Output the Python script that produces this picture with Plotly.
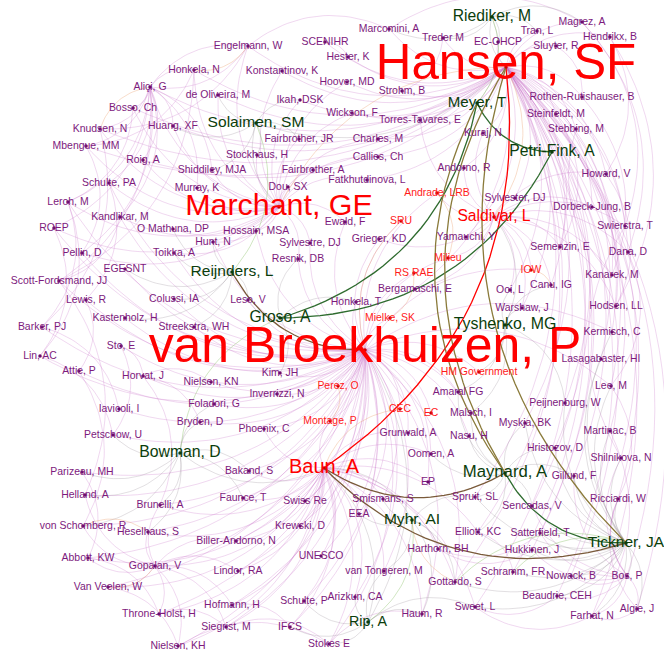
import numpy as np
import plotly.graph_objects as go

# ---------------- nodes ----------------
# ordinary (purple cluster) nodes: label, x, y (layout coordinates)
purple_names = [
    "Engelmann, W", "SCENIHR", "Marcomini, A", "Treder M", "EC-OHCP", "Magrez, A", "Tran, L",
    "Hendrikx, B", "Sluyter, R", "Hester, K", "Konstantinov, K", "Honkela, N", "Hoover, MD",
    "Aliçi, G", "de Oliveira, M", "Ikah, DSK", "Strohm, B", "Rothen-Rutishauser, B", "Bosso, Ch",
    "Wickson, F", "Torres-Tavares, E", "Steinfeldt, M", "Knudsen, N", "Huang, XF", "Kuraj, N",
    "Stebbing, M", "Mbengue, MM", "Fairbrother, JR", "Charles, M", "Stockhaus, H", "Callies, Ch",
    "Roig, A", "Shiddiley, MJA", "Fairbrother, A", "Andorno, R", "Fatkhutdinova, L", "Schulte, PA",
    "Howard, V", "Dou, SX", "Murray, K", "Sylvester, DJ", "Dorbeck-Jung, B", "Leroh, M",
    "Kandlikar, M", "Ewald, F", "O Mathuna, DP", "ROEP", "Hossain, MSA", "Swierstra, T", "Hunt, N",
    "Sylvestre, DJ", "Grieger, KD", "Yamauchi, Y", "Semenzin, E", "Dana, D", "Pellin, D",
    "Toikka, A", "Resnik, DB", "EGESNT", "Kanarek, M", "Scott-Fordsmand, JJ", "Bergamaschi, E",
    "Canu, IG", "Ooi, L", "Lewis, R", "Colussi, IA", "Leso, V", "Honkela, T", "Hodsen, LL",
    "Warshaw, J", "Kastenholz, H", "Streekstra, WH", "Barker, PJ", "Kermisch, C", "Sto, E",
    "Lasagabaster, HI", "Lin, AC", "Attie, P", "Horvat, J", "Nielsen, KN", "Kim, JH", "Amaral FG",
    "Lee, M", "Inverrizzi, N", "Iavicoli, I", "Foladori, G", "Malsch, I", "Peijnenburg, W",
    "Myskja, BK", "Bryden, D", "Martinac, B", "Phoenix, C", "Grunwald, A", "Nasu, H",
    "Hristozov, D", "Petschow, U", "Shilnikova, N", "Oomen, A", "Gillund, F", "Parizeau, MH",
    "Bakand, S", "EP", "Helland, A", "Faunce, T", "Swiss Re", "Spruit, SL", "Smismans, S",
    "Sencadas, V", "Ricciardi, W", "Brunelli, A", "EEA", "von Schomberg, R", "Heselhaus, S",
    "Krewski, D", "Biller-Andorno, N", "Elliott, KC", "Satterfield, T", "Harthorn, BH",
    "Hukkinen, J", "UNESCO", "Abbott, KW", "Gopalan, V", "Lindor, RA", "van Tongeren, M",
    "Schramm, FR", "Nowack, B", "Bos, P", "Gottardo, S", "Van Veelen, W", "Hofmann, H",
    "Schulte, P", "Arizkun, CA", "Beaudrie, CEH", "Haum, R", "Sweet, L", "Algie, J",
    "Throne-Holst, H", "Siegrist, M", "IFCS", "Farhat, N", "Nielsen, KH", "Stokes E",
]
purple_x = [
    248, 325, 389, 443, 498, 582, 537,
    610, 556, 348, 282, 194, 347,
    150, 218, 300, 402, 582, 133,
    352, 420, 556, 100, 173, 483,
    576, 86, 299, 378, 257, 378,
    143, 212, 313, 464, 367, 109,
    606, 288, 197, 515, 592, 68,
    120, 345, 173, 54, 256, 625, 213,
    310, 379, 466, 560, 628, 82,
    174, 298, 125, 612, 59, 415,
    551, 510, 86, 174, 248, 356, 616,
    522, 125, 194, 42, 612, 121,
    601, 40, 79, 143, 211, 280, 458,
    611, 277, 119, 214, 471, 565,
    525, 200, 610, 264, 408, 469,
    555, 113, 621, 431, 574, 82,
    249, 428, 85, 243, 305, 475, 383,
    532, 618, 160, 359, 83, 148,
    300, 236, 478, 540, 438,
    532, 321, 88, 155, 238, 384,
    513, 571, 627, 455, 108, 232,
    304, 355, 557, 422, 475, 637,
    159, 226, 290, 592, 178, 329,
]
purple_y = [
    46, 42, 29, 38, 42, 22, 31,
    37, 46, 57, 71, 70, 82,
    87, 95, 100, 91, 97, 108,
    113, 120, 114, 129, 126, 133,
    129, 146, 139, 139, 155, 157,
    160, 170, 170, 168, 180, 183,
    174, 187, 188, 198, 207, 202,
    217, 222, 229, 228, 231, 226, 242,
    243, 239, 237, 247, 252, 253,
    253, 259, 269, 275, 281, 289,
    285, 290, 300, 299, 300, 302, 306,
    308, 318, 327, 327, 332, 346,
    359, 356, 371, 376, 382, 373, 392,
    386, 394, 409, 404, 413, 403,
    423, 422, 431, 429, 433, 436,
    448, 435, 458, 454, 476, 472,
    471, 482, 495, 498, 501, 497, 499,
    506, 499, 505, 514, 526, 532,
    526, 541, 532, 533, 549,
    550, 556, 558, 566, 571, 571,
    572, 576, 576, 582, 587, 605,
    601, 597, 596, 614, 607, 609,
    614, 627, 627, 616, 646, 644,
]

# red cluster, small nodes
red_names = ["Andrade, LRB", "SRU", "Milieu", "IOW", "RS RAE", "Mielke, SK",
             "HM Government", "Perez, O", "CEC", "EC", "Montage, P"]
red_x = [437, 401, 448, 531, 414, 390, 479, 338, 400, 431, 330]
red_y = [193, 221, 258, 270, 273, 318, 372, 386, 409, 413, 421]

# red cluster, high-degree nodes
hub_names = ["Hansen, SF", "van Broekhuizen, P", "Marchant, GE", "Saldivar, L", "Baun, A"]
hub_x = [506, 365, 279, 494, 324]
hub_y = [67, 350, 207, 217, 468]
hub_degree = [34.5, 35.0, 18.2, 5.5, 9.2]

# green cluster nodes
green_names = ["Riediker, M", "Meyer, T", "Solaimen, SM", "Petri-Fink, A", "Reijnders, L",
               "Groso, A", "Tyshenko, MG", "Bowman, D", "Maynard, A", "Myhr, AI",
               "Tickner, JA", "Rip, A"]
green_x = [492, 477, 256, 552, 232, 280, 505, 180, 505, 412, 626, 368]
green_y = [17, 103, 123, 152, 272, 318, 325, 453, 473, 520, 543, 622]
green_degree = [5.5, 5.0, 5.4, 5.5, 5.4, 5.5, 5.7, 5.6, 6.4, 5.4, 5.4, 4.3]

# ---------------- edges ----------------
hansen_links = [
    "Marcomini, A", "Treder M", "Riediker, M", "EC-OHCP", "Tran, L", "Magrez, A", "Hendrikx, B",
    "Sluyter, R", "Rothen-Rutishauser, B", "Steinfeldt, M", "Stebbing, M", "Howard, V",
    "Dorbeck-Jung, B", "Swierstra, T", "Dana, D", "Kanarek, M", "Hodsen, LL", "Kermisch, C",
    "Lasagabaster, HI", "Lee, M", "Martinac, B", "Shilnikova, N", "Ricciardi, W", "Bos, P",
    "Algie, J", "Farhat, N", "Nowack, B", "Beaudrie, CEH", "Strohm, B", "Hoover, MD", "Hester, K",
    "SCENIHR", "Engelmann, W", "Konstantinov, K", "Honkela, N", "Aliçi, G", "Bosso, Ch",
    "Huang, XF", "Ikah, DSK", "Wickson, F", "Torres-Tavares, E", "Kuraj, N", "Andorno, R",
    "Sylvester, DJ", "Semenzin, E", "Canu, IG", "Ooi, L", "Warshaw, J", "Peijnenburg, W",
    "Myskja, BK", "Hristozov, D", "Gillund, F", "Sencadas, V", "Satterfield, T", "Hukkinen, J",
    "Schramm, FR", "Gottardo, S", "Sweet, L", "Elliott, KC", "Spruit, SL", "Bergamaschi, E",
    "Yamauchi, Y", "Solaimen, SM", "Charles, M", "Callies, Ch", "Fatkhutdinova, L",
    "Knudsen, N", "Mbengue, MM", "Roig, A", "de Oliveira, M",
]
broek_links = [
    "ROEP", "Pellin, D", "EGESNT", "Scott-Fordsmand, JJ", "Lewis, R", "Barker, PJ", "Lin, AC",
    "Attie, P", "Sto, E", "Kastenholz, H", "Colussi, IA", "Streekstra, WH", "Horvat, J",
    "Iavicoli, I", "Petschow, U", "Parizeau, MH", "Helland, A", "von Schomberg, R", "Abbott, KW",
    "Van Veelen, W", "Throne-Holst, H", "Nielsen, KH", "Siegrist, M", "Hofmann, H", "IFCS",
    "Stokes E", "Schulte, P", "Arizkun, CA", "Lindor, RA", "UNESCO", "Gopalan, V", "Heselhaus, S",
    "Brunelli, A", "Biller-Andorno, N", "Krewski, D", "Faunce, T", "Swiss Re", "Bakand, S", "EEA",
    "Smismans, S", "Oomen, A", "Grunwald, A", "CEC", "EC", "Montage, P", "Perez, O",
    "HM Government", "Amaral FG", "Malsch, I", "Nasu, H", "Kim, JH", "Inverrizzi, N",
    "Nielsen, KN", "Foladori, G", "Bryden, D", "Phoenix, C", "Leso, V", "Mielke, SK", "RS RAE",
    "SRU", "Andrade, LRB", "Honkela, T", "Resnik, DB", "Sylvestre, DJ", "Grieger, KD", "Ewald, F",
    "Hossain, MSA", "Hunt, N", "Toikka, A", "Rip, A", "Haum, R", "van Tongeren, M", "Gottardo, S",
    "EP", "Kandlikar, M", "Leroh, M", "Schulte, PA", "Lee, M", "Kermisch, C", "Milieu", "IOW",
]
marchant_links = [
    "Solaimen, SM", "Fairbrother, JR", "Stockhaus, H", "Shiddiley, MJA", "Fairbrother, A",
    "Dou, SX", "Murray, K", "Kandlikar, M", "O Mathuna, DP", "Leroh, M", "Schulte, PA",
    "Hossain, MSA", "Charles, M", "Callies, Ch", "Fatkhutdinova, L", "Wickson, F", "Ikah, DSK",
    "Hoover, MD", "Konstantinov, K", "Engelmann, W", "Huang, XF", "Roig, A", "Mbengue, MM",
    "Knudsen, N", "Bosso, Ch", "Aliçi, G", "de Oliveira, M", "Honkela, N", "ROEP", "Pellin, D",
    "Resnik, DB", "Sylvestre, DJ", "Ewald, F", "Hunt, N", "Toikka, A",
]
saldivar_links = [
    "Andorno, R", "Sylvester, DJ", "Kuraj, N", "Yamauchi, Y", "Torres-Tavares, E", "Andrade, LRB",
    "Semenzin, E", "Canu, IG", "Ooi, L", "Warshaw, J", "Tyshenko, MG", "Howard, V",
    "Dorbeck-Jung, B", "Swierstra, T", "Dana, D", "Kanarek, M", "Hodsen, LL", "Grieger, KD",
    "Bergamaschi, E", "IOW", "Milieu",
]
baun_links = [
    "Bakand, S", "Faunce, T", "Swiss Re", "Smismans, S", "EEA", "Krewski, D", "Biller-Andorno, N",
    "UNESCO", "Lindor, RA", "Schulte, P", "Arizkun, CA", "Stokes E", "IFCS", "Siegrist, M",
    "Hofmann, H", "Gopalan, V", "Heselhaus, S", "Brunelli, A", "Bowman, D", "Phoenix, C",
    "Grunwald, A", "Oomen, A", "EP", "Montage, P", "van Tongeren, M", "Haum, R", "Rip, A",
    "Myhr, AI", "Harthorn, BH", "Elliott, KC", "Gottardo, S", "Sweet, L", "Throne-Holst, H",
    "Nielsen, KH", "Van Veelen, W", "Abbott, KW",
]
tickner_links = [
    "Bos, P", "Algie, J", "Farhat, N", "Nowack, B", "Beaudrie, CEH", "Hukkinen, J",
    "Satterfield, T", "Sencadas, V", "Ricciardi, W", "Gillund, F", "Shilnikova, N",
    "Hristozov, D", "Martinac, B", "Schramm, FR", "Sweet, L", "Gottardo, S", "Elliott, KC",
    "Spruit, SL", "Lee, M", "Lasagabaster, HI", "Kermisch, C", "Peijnenburg, W", "Myskja, BK",
]
alici_links = [
    "Huang, XF", "Roig, A", "Schulte, PA", "Kandlikar, M", "Leroh, M", "Mbengue, MM", "Bosso, Ch",
    "Knudsen, N", "Murray, K", "Shiddiley, MJA", "Honkela, N", "Engelmann, W", "Pellin, D",
    "Scott-Fordsmand, JJ",
]
gopalan_links = [
    "Heselhaus, S", "Brunelli, A", "Abbott, KW", "Van Veelen, W", "Throne-Holst, H",
    "Nielsen, KH", "Helland, A", "von Schomberg, R", "Lindor, RA", "Hofmann, H", "Siegrist, M",
    "Biller-Andorno, N",
]
bos_links = [
    "Algie, J", "Farhat, N", "Nowack, B", "Beaudrie, CEH", "Hukkinen, J", "Satterfield, T",
    "Ricciardi, W", "Gillund, F", "Shilnikova, N", "Sencadas, V",
]
maynard_links = ["Gillund, F", "Hristozov, D", "Nasu, H", "Spruit, SL", "Sencadas, V",
                 "Elliott, KC", "Myskja, BK", "Malsch, I", "Amaral FG", "Oomen, A"]
bowman_links = ["Petschow, U", "Parizeau, MH", "Helland, A", "Brunelli, A", "Heselhaus, S",
                "von Schomberg, R", "Bryden, D", "Foladori, G", "Faunce, T", "Bakand, S"]
myhr_links = ["Smismans, S", "EEA", "Harthorn, BH", "Gottardo, S", "Spruit, SL", "Haum, R",
              "van Tongeren, M"]
rip_links = ["Arizkun, CA", "Haum, R", "Stokes E", "Schulte, P", "IFCS", "van Tongeren, M",
             "Sweet, L"]
tyshenko_links = ["Warshaw, J", "Ooi, L", "Canu, IG", "Peijnenburg, W", "Amaral FG", "Malsch, I",
                  "HM Government"]
reijnders_links = ["Toikka, A", "Hunt, N", "Colussi, IA", "Leso, V", "Streekstra, WH",
                   "Kastenholz, H", "EGESNT", "O Mathuna, DP"]
groso_links = ["Leso, V", "Honkela, T", "Resnik, DB", "Kim, JH"]
solaimen_links = ["Fairbrother, JR", "Stockhaus, H", "Shiddiley, MJA", "de Oliveira, M",
                  "Huang, XF", "Ikah, DSK"]
riediker_links = ["Marcomini, A", "Treder M", "EC-OHCP", "Tran, L", "Magrez, A", "Meyer, T"]

other_pairs = [
    ("Leroh, M", "Lin, AC"), ("Knudsen, N", "Barker, PJ"), ("Aliçi, G", "ROEP"),
    ("Honkela, N", "Scott-Fordsmand, JJ"), ("Engelmann, W", "Marcomini, A"),
    ("Marcomini, A", "Magrez, A"), ("Hendrikx, B", "Howard, V"), ("Howard, V", "Hodsen, LL"),
    ("Dana, D", "Lee, M"), ("Lee, M", "Ricciardi, W"), ("Algie, J", "Farhat, N"),
    ("Nielsen, KH", "Stokes E"), ("Abbott, KW", "Throne-Holst, H"), ("Parizeau, MH", "Abbott, KW"),
    ("Lin, AC", "Petschow, U"), ("Scott-Fordsmand, JJ", "Helland, A"), ("Bosso, Ch", "Leroh, M"),
    ("Mbengue, MM", "Pellin, D"), ("Attie, P", "von Schomberg, R"), ("Van Veelen, W", "Nielsen, KH"),
    ("Stokes E", "Haum, R"), ("Farhat, N", "Sweet, L"), ("Bos, P", "Ricciardi, W"),
    ("Shilnikova, N", "Swierstra, T"), ("Kanarek, M", "Stebbing, M"),
    ("Sluyter, R", "Rothen-Rutishauser, B"), ("Engelmann, W", "Aliçi, G"), ("Treder M", "Strohm, B"),
    ("SCENIHR", "Hester, K"), ("Hendrikx, B", "Hodsen, LL"), ("Magrez, A", "Dana, D"),
    ("Barker, PJ", "Iavicoli, I"), ("Lewis, R", "Attie, P"), ("Sto, E", "Petschow, U"),
    ("Horvat, J", "Brunelli, A"), ("Horvat, J", "Bryden, D"), ("Horvat, J", "Nielsen, KN"),
    ("Sto, E", "Horvat, J"), ("Leroh, M", "Barker, PJ"), ("ROEP", "Lin, AC"),
    ("Schulte, PA", "Lewis, R"), ("Kandlikar, M", "Scott-Fordsmand, JJ"),
    ("Algie, J", "Ricciardi, W"), ("Martinac, B", "Farhat, N"), ("Beaudrie, CEH", "Sweet, L"),
    ("Hukkinen, J", "Harthorn, BH"), ("Satterfield, T", "Harthorn, BH"), ("Elliott, KC", "Schramm, FR"),
    ("Hofmann, H", "IFCS"), ("Siegrist, M", "Stokes E"), ("Throne-Holst, H", "Siegrist, M"),
    ("Engelmann, W", "Knudsen, N"), ("Honkela, N", "Mbengue, MM"), ("Magrez, A", "Swierstra, T"),
    ("Rothen-Rutishauser, B", "Kanarek, M"), ("Steinfeldt, M", "Semenzin, E"),
]
orange_pairs = [
    ("Hansen, SF", "Saldivar, L"), ("Engelmann, W", "Honkela, N"), ("van Broekhuizen, P", "SRU"),
    ("Andrade, LRB", "Milieu"), ("Marchant, GE", "Hansen, SF"), ("Baun, A", "CEC"),
    ("Gopalan, V", "Van Veelen, W"), ("von Schomberg, R", "Heselhaus, S"),
    ("Knudsen, N", "Aliçi, G"), ("Perez, O", "Montage, P"), ("RS RAE", "Mielke, SK"),
    ("Gottardo, S", "Myhr, AI"), ("IOW", "Canu, IG"),
]
light_green_pairs = [
    ("Schramm, FR", "Tickner, JA"), ("Gottardo, S", "Tickner, JA"), ("Bowman, D", "Groso, A"),
    ("Riediker, M", "Meyer, T"), ("Solaimen, SM", "Reijnders, L"), ("Myhr, AI", "Rip, A"),
]

# strong (coloured) edges between high-degree nodes: source, target, kind
strong_edges = [
    ("Hansen, SF", "Baun, A", "red"),
    ("Meyer, T", "Groso, A", "green"),
    ("Petri-Fink, A", "Groso, A", "green"),
    ("Petri-Fink, A", "Meyer, T", "green"),
    ("Tickner, JA", "Maynard, A", "green"),
    ("Maynard, A", "Meyer, T", "olive"),
    ("Maynard, A", "Hansen, SF", "olive"),
    ("Tickner, JA", "Hansen, SF", "olive"),
    ("van Broekhuizen, P", "Reijnders, L", "brown"),
    ("Tickner, JA", "Baun, A", "brown"),
    ("Maynard, A", "Baun, A", "brown"),
]

# ---------------- build ----------------
pos = {}
clus = {}
for names, xs, ys, c in [(purple_names, purple_x, purple_y, "p"), (red_names, red_x, red_y, "r"),
                         (hub_names, hub_x, hub_y, "r"), (green_names, green_x, green_y, "g")]:
    assert len(names) == len(xs) == len(ys)
    for n, x, y in zip(names, xs, ys):
        pos[n] = (x, y)
        clus[n] = c


def arc(a, b, k=0.3, n=28):
    (x0, y0), (x2, y2) = pos[a], pos[b]
    dx, dy = x2 - x0, y2 - y0
    cx = (x0 + x2) / 2 + k * dy
    cy = (y0 + y2) / 2 - k * dx
    t = np.linspace(0, 1, n)
    xs = (1 - t) ** 2 * x0 + 2 * t * (1 - t) * cx + t ** 2 * x2
    ys = (1 - t) ** 2 * y0 + 2 * t * (1 - t) * cy + t ** 2 * y2
    return list(xs) + [None], list(ys) + [None]


hub_tables = [
    ("Hansen, SF", hansen_links), ("van Broekhuizen, P", broek_links),
    ("Marchant, GE", marchant_links), ("Saldivar, L", saldivar_links), ("Baun, A", baun_links),
    ("Tickner, JA", tickner_links), ("Aliçi, G", alici_links), ("Gopalan, V", gopalan_links),
    ("Bos, P", bos_links), ("Maynard, A", maynard_links), ("Bowman, D", bowman_links),
    ("Myhr, AI", myhr_links), ("Rip, A", rip_links), ("Tyshenko, MG", tyshenko_links),
    ("Reijnders, L", reijnders_links), ("Groso, A", groso_links),
    ("Solaimen, SM", solaimen_links), ("Riediker, M", riediker_links),
]
pairs = []
for hub, lst in hub_tables:
    for nb in lst:
        pairs.append((hub, nb))
pairs += other_pairs

buckets = {"violet": ([], []), "grey": ([], []), "orange": ([], []), "lgreen": ([], [])}
for a, b in pairs:
    if a not in pos or b not in pos:
        continue
    cs = {clus[a], clus[b]}
    key = "grey" if "g" in cs else "violet"
    xs, ys = arc(a, b)
    buckets[key][0].extend(xs)
    buckets[key][1].extend(ys)
for a, b in orange_pairs:
    xs, ys = arc(a, b)
    buckets["orange"][0].extend(xs)
    buckets["orange"][1].extend(ys)
for a, b in light_green_pairs:
    xs, ys = arc(a, b)
    buckets["lgreen"][0].extend(xs)
    buckets["lgreen"][1].extend(ys)

bucket_style = {
    "violet": ("rgba(200,110,200,0.34)", 0.8),
    "grey": ("rgba(150,140,150,0.35)", 0.8),
    "orange": ("rgba(235,160,110,0.45)", 0.8),
    "lgreen": ("rgba(150,200,120,0.5)", 0.9),
}
strong_style = {"red": "#ff0000", "green": "#2e6b2e", "olive": "#8a7a3a", "brown": "#7a5a3a"}

fig = go.Figure()
for key, (xs, ys) in buckets.items():
    col, w = bucket_style[key]
    fig.add_trace(go.Scatter(x=xs, y=ys, mode="lines", line=dict(color=col, width=w),
                             hoverinfo="skip"))
for a, b, kind in strong_edges:
    xs, ys = arc(a, b)
    fig.add_trace(go.Scatter(x=xs, y=ys, mode="lines",
                             line=dict(color=strong_style[kind], width=1.3), hoverinfo="skip"))

FONT = "Liberation Sans, Arial, Helvetica, sans-serif"


def fsize(deg):
    return 9.3 + 1.16 * deg


# node dots
all_x = purple_x + red_x + hub_x + green_x
all_y = purple_y + red_y + hub_y + green_y
dot_cols = (["#6a0a6a"] * len(purple_x) + ["#cc0000"] * len(red_x) + ["#cc0000"] * len(hub_x)
            + ["#0b3d0b"] * len(green_x))
fig.add_trace(go.Scatter(x=all_x, y=all_y, mode="markers",
                         marker=dict(size=3.5, color=dot_cols), hoverinfo="skip"))

# labels: big ones first so the small ones stay on top
fig.add_trace(go.Scatter(x=hub_x, y=hub_y, text=hub_names, mode="text",
                         textposition="middle center", cliponaxis=False,
                         textfont=dict(family=FONT, color="#ff0000",
                                       size=[fsize(d) for d in hub_degree]),
                         hoverinfo="skip"))
fig.add_trace(go.Scatter(x=green_x, y=green_y, text=green_names, mode="text",
                         textposition="middle center", cliponaxis=False,
                         textfont=dict(family=FONT, color="#0b3d0b",
                                       size=[fsize(d) for d in green_degree]),
                         hoverinfo="skip"))
fig.add_trace(go.Scatter(x=red_x, y=red_y, text=red_names, mode="text",
                         textposition="middle center", cliponaxis=False,
                         textfont=dict(family=FONT, color="#ff1a1a", size=fsize(1)),
                         hoverinfo="skip"))
fig.add_trace(go.Scatter(x=purple_x, y=purple_y, text=purple_names, mode="text",
                         textposition="middle center", cliponaxis=False,
                         textfont=dict(family=FONT, color="#7d1a7d", size=fsize(1)),
                         hoverinfo="skip"))

fig.update_layout(
    width=664, height=650, margin=dict(l=0, r=0, t=0, b=0),
    paper_bgcolor="white", plot_bgcolor="white", showlegend=False, hovermode=False,
    xaxis=dict(range=[0, 664], visible=False, fixedrange=True),
    yaxis=dict(range=[650, 0], visible=False, fixedrange=True),
)
fig.write_html("out.html", config={"displayModeBar": False},
               post_script="document.body.style.margin='0px';document.body.style.overflow='hidden';")
